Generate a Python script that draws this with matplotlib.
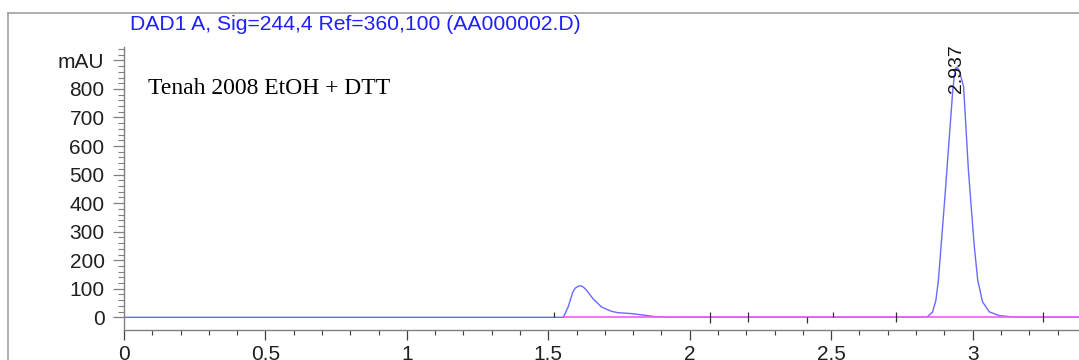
import matplotlib
matplotlib.use("Agg")
import matplotlib.pyplot as plt
from matplotlib.lines import Line2D
import numpy as np

# chromatogram trace (min, mAU)
times = [0.0, 1.553, 1.570, 1.587, 1.595, 1.603, 1.610, 1.617, 1.626, 1.635,
         1.658, 1.688, 1.723, 1.747, 1.794, 1.842, 1.877, 1.912, 2.0, 2.2,
         2.5, 2.80, 2.840, 2.858, 2.870, 2.879, 2.891, 2.902, 2.909, 2.929,
         2.935, 2.942, 2.950, 2.958, 2.968, 2.985, 2.994, 3.006, 3.018, 3.035,
         3.059, 3.094, 3.142, 3.2, 3.376]
signal = [0, 0, 36, 89, 102, 107, 110, 110, 104, 95,
          65, 36, 21, 16, 13, 7, 2.5, 0.5, 0, 0,
          0, 0, 2, 18, 59, 130, 282, 422, 516, 785,
          845, 876, 870, 845, 808, 516, 399, 247, 130, 54,
          19, 6, 1, 0, 0]

# baseline drawn by the integrator
base_start = 1.553
base_end = 3.376

# integration event marks (time, low, high in mAU)
event_t = [1.52, 2.07, 2.206, 2.415, 2.507, 2.73, 3.25]
event_lo = [0, -20, -18, -20, 0, -18, -18]
event_hi = [20, 20, 20, 0, 20, 20, 20]

peak_rt = "2.937"
peak_pos = (2.944, 785)

y_ticks = [0, 100, 200, 300, 400, 500, 600, 700, 800, 900]
y_labels = ["0", "100", "200", "300", "400", "500", "600", "700", "800", "mAU"]
x_ticks = [0, 0.5, 1, 1.5, 2, 2.5, 3]
x_labels = ["0", "0.5", "1", "1.5", "2", "2.5", "3"]

title = "DAD1 A, Sig=244,4 Ref=360,100 (AA000002.D)"
sample = "Tenah 2008 EtOH + DTT"

plt.rcParams['font.family'] = ['Liberation Sans', 'DejaVu Sans']

fig = plt.figure()
fig.set_size_inches(10.79, 3.6)
ax = fig.add_axes([124 / 1079, 30 / 360, 1 - 124 / 1079, 283.3 / 360])

ax.plot(times, signal, color='#6a6aff', lw=1.0, zorder=2)
ax.plot([base_start, base_end], [0, 0], color='#ff55ff', lw=1.2, zorder=3)
ax.vlines(event_t, event_lo, event_hi, color='#303030', lw=0.9, zorder=4)

ax.text(peak_pos[0], peak_pos[1], peak_rt, rotation=90, ha='center', va='bottom',
        fontsize=14, color='#111111', zorder=5)

ax.set_xlim(0, 3.376)
ax.set_ylim(-44.5, 948)

ax.set_yticks(y_ticks)
ax.set_yticklabels(y_labels)
ax.set_yticks(np.arange(0, 941, 20), minor=True)
ax.set_xticks(x_ticks)
ax.set_xticklabels(x_labels)
ax.set_xticks(np.arange(0, 3.38, 0.1), minor=True)

for s in ['top', 'right']:
    ax.spines[s].set_visible(False)
for s in ['left', 'bottom']:
    ax.spines[s].set_color('#808080')
    ax.spines[s].set_linewidth(1.0)

ax.tick_params(axis='y', which='major', length=8, width=0.9, color='#808080',
               labelsize=15, labelcolor='#202020', pad=6)
ax.tick_params(axis='y', which='minor', length=4, width=0.8, color='#808080')
ax.tick_params(axis='x', which='major', length=7.5, width=0.9, color='#404040',
               labelsize=15, labelcolor='#202020', pad=3)
ax.tick_params(axis='x', which='minor', length=3.5, width=0.8, color='#404040')

fig.text(130 / 1079, 1 - 24 / 360, title, color='#1f1fff', fontsize=15.2,
         ha='left', va='center')
fig.text(148 / 1079, 1 - 88 / 360, sample, family='Liberation Serif',
         fontsize=17, color='black', ha='left', va='center')

# outer report frame
fig.add_artist(Line2D([8 / 1079, 8 / 1079], [0, 1 - 12.5 / 360], color='#a0a0a0', lw=1.2))
fig.add_artist(Line2D([8 / 1079, 1], [1 - 12.5 / 360, 1 - 12.5 / 360], color='#a0a0a0', lw=1.2))

fig.savefig("out.png", dpi=100)
plt.close()
